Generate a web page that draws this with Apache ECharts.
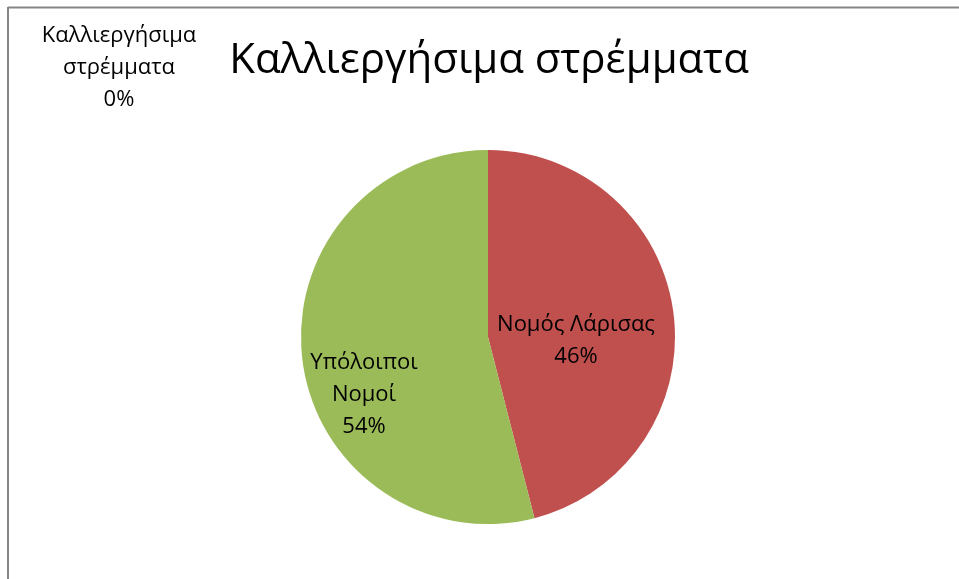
<!DOCTYPE html>
<html>
<head>
<meta charset="utf-8">
<script src="https://cdn.jsdelivr.net/npm/echarts@6/dist/echarts.min.js"></script>
<style>
  html, body { margin: 0; padding: 0; background: #fff; }
  #chart { width: 959px; height: 579px; }
</style>
</head>
<body>
<div id="chart"></div>
<script>
// Share of cultivable land (στρέμματα)
const categories = ['Καλλιεργήσιμα στρέμματα', 'Νομός Λάρισας', 'Υπόλοιποι Νομοί'];
const shares = [0, 46, 54];
const colors = ['#4F81BD', '#C0504D', '#9BBB59'];
const titleText = 'Καλλιεργήσιμα στρέμματα';

// Hand-placed label anchors for each slice
const labelSpots = [
  { x: 119, y: 68 },
  { x: 576, y: 341 },
  { x: 364, y: 395 }
];

const FONT = '"Open Sans", "Noto Sans", sans-serif';

const chart = echarts.init(document.getElementById('chart'), null, { renderer: 'canvas' });

chart.setOption({
  animation: false,
  backgroundColor: '#ffffff',
  title: {
    text: titleText,
    left: 484,
    top: 35,
    textAlign: 'center',
    textStyle: { fontFamily: FONT, fontSize: 42, fontWeight: 'normal', color: '#000' }
  },
  graphic: [
    { type: 'line', shape: { x1: 8, y1: 7.5, x2: 959, y2: 7.5 }, style: { stroke: '#868686', lineWidth: 2 } },
    { type: 'line', shape: { x1: 8, y1: 7, x2: 8, y2: 579 }, style: { stroke: '#868686', lineWidth: 2 } }
  ],
  series: [{
    type: 'pie',
    center: [488, 337],
    radius: 187,
    startAngle: 90,
    clockwise: true,
    minAngle: 0,
    stillShowZeroSum: true,
    label: {
      show: true,
      position: 'inside',
      formatter: function (p) {
        return p.name.replace(' ', p.dataIndex === 1 ? ' ' : '\n') + '\n' + Math.round(p.percent) + '%';
      },
      fontFamily: FONT,
      fontSize: 22,
      lineHeight: 32,
      color: '#000',
      align: 'center'
    },
    labelLine: { show: false },
    labelLayout: function (params) {
      const s = labelSpots[params.dataIndex];
      return { x: s.x, y: s.y, align: 'center', verticalAlign: 'middle', fontSize: 22 };
    },
    itemStyle: { borderWidth: 0 },
    emphasis: { disabled: true },
    data: categories.map(function (name, i) {
      return { name: name, value: shares[i], itemStyle: { color: colors[i] } };
    })
  }]
});
</script>
</body>
</html>
